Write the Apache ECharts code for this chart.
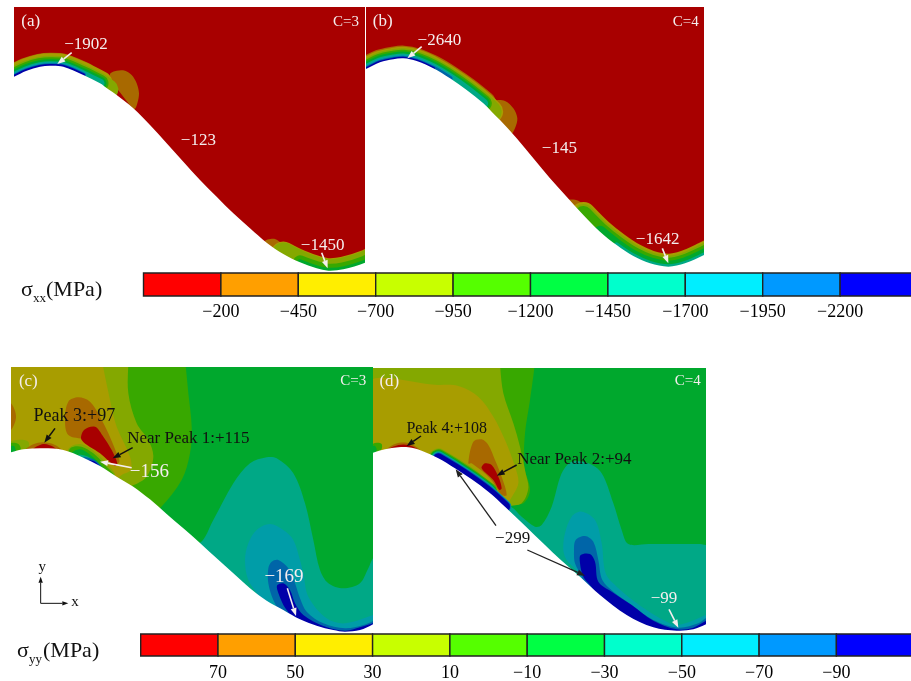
<!DOCTYPE html>
<html><head><meta charset="utf-8"><title>Stress contours</title>
<style>html,body{margin:0;padding:0;background:#fff}#c{width:911px;height:681px}</style>
<script src="https://cdn.jsdelivr.net/npm/echarts@6/dist/echarts.min.js"></script></head>
<body><div id="c"></div>
<script>
// Legend
const legendColors=['#ff0000','#ff9f00','#ffee00','#c8ff00','#55ff00','#00ff44','#00ffcc','#00eeff','#0099ff','#0000ff'];
const shadeColors=['#a80000','#a86900','#a89d00','#84a800','#38a800','#00a82d','#00a886','#009da8','#0065a8','#0000a8'];
const xxTicks=['−200','−450','−700','−950','−1200','−1450','−1700','−1950','−2200'];
const yyTicks=['70','50','30','10','−10','−30','−50','−70','−90'];

// Contour boundaries (panel units)
const curveA=[[0,250],[42,230],[80,212],[120,200],[150,197],[190,200],[250,225],[300,250],[325,268],[350,285],[400,325],[450,375],[500,430],[550,485],[600,540],[650,590],[700,640],[750,685],[800,728],[850,762],[900,787],[950,805],[985,812],[1030,808],[1095,788],[1150,760]];
const curveB=[[-40,225],[18,207],[60,187],[100,178],[130,175],[170,183],[220,205],[270,235],[320,270],[370,310],[395,335],[420,360],[470,415],[520,475],[570,535],[620,590],[670,645],[720,695],[770,735],[820,768],[870,790],[925,800],[975,790],[1032,765],[1090,735]];
const curveC=[[-30,290],[33,277],[70,268],[130,265],[190,270],[250,293],[300,318],[350,350],[400,380],[450,418],[500,462],[550,505],[600,549],[650,595],[700,640],[750,685],[800,722],[850,750],[900,778],[950,797],[1000,810],[1035,815],[1080,810],[1120,792],[1170,760]];
const curveD=[[-30,295],[24,278],[60,268],[100,262],[130,262],[170,272],[220,295],[270,325],[320,358],[370,395],[420,440],[480,497],[540,555],[585,598],[650,655],[705,705],[785,765],[865,802],[935,812],[985,808],[1023,793],[1080,765]];

const regionsA=[
 [1,[[330,222],[350,212],[375,212],[395,225],[410,250],[417,280],[412,310],[403,327],[370,290],[340,250]]],
 [1,[[795,725],[825,717],[850,735],[880,755],[900,790],[850,780]]]
];
const regionsB=[
 [1,[[405,303],[435,303],[460,325],[472,355],[465,385],[452,403],[425,370],[400,330]]],
 [1,[[625,602],[655,602],[680,625],[700,650],[690,680]]]
];
const regionsC=[
 [6,[[600,548],[640,480],[700,370],[750,310],[800,292],[830,295],[880,340],[915,430],[940,540],[960,630],[985,670],[1030,685],[1080,670],[1105,625],[1125,590],[1180,590],[1180,850],[560,850],[560,520]]],
 [7,[[735,600],[745,550],[770,510],[810,492],[850,510],[880,540],[900,600],[910,640],[925,710],[980,775],[1035,790],[1120,765],[1180,740],[1180,850],[830,850],[790,730],[745,660]]],
 [8,[[805,625],[815,605],[835,600],[865,625],[885,670],[900,715],[920,755],[970,790],[1035,805],[1090,795],[1125,780],[1180,750],[1180,850],[880,850],[850,775],[820,720],[805,670]]],
 [9,[[832,690],[832,675],[850,670],[870,690],[885,730],[910,765],[970,798],[1035,812],[1080,802],[1125,788],[1180,770],[1180,850],[890,850],[875,775],[850,735]]],
 [4,[[0,-30],[550,-20],[555,0],[565,100],[575,200],[570,280],[545,360],[480,445],[400,520],[0,520]]],
 [3,[[0,-30],[385,-20],[385,0],[385,100],[410,190],[445,240],[460,290],[440,350],[395,378],[300,420],[0,420]]],
 [2,[[0,-30],[300,-20],[305,0],[330,120],[350,200],[390,290],[392,330],[365,345],[300,400],[0,400]]],
 [1,[[10,125],[33,130],[48,170],[33,210],[10,215]]],
 [1,[[195,180],[205,125],[235,112],[270,125],[300,170],[325,220],[350,280],[358,305],[340,315],[300,275],[255,240],[205,225]]],
 [0,[[245,240],[252,210],[285,200],[310,230],[335,270],[352,310],[345,318],[300,280]]],
 [3,[[25,250],[50,240],[85,245],[80,275],[25,285]]],
 [4,[[25,252],[55,252],[62,275],[25,285]]],
 [5,[[25,262],[42,258],[46,278],[25,285]]],
 [1,[[78,270],[100,253],[130,247],[165,255],[185,272]]],
 [0,[[100,268],[130,252],[160,260],[170,272]]],
 [3,[[203,275],[215,258],[245,253],[280,272],[320,310],[345,345],[300,340],[240,310]]],
 [4,[[205,280],[215,262],[245,260],[280,280],[312,312],[345,350],[300,340],[220,300]]],
 [5,[[215,283],[240,268],[275,288],[305,318],[340,352],[300,345]]],
 [6,[[235,285],[265,290],[295,315],[330,350],[290,335]]],
 [8,[[250,292],[280,298],[305,322],[300,330]]],
 [9,[[265,302],[285,305],[306,328],[295,330]]]
];
const regionsD=[
 [7,[[595,570],[600,520],[620,470],[650,455],[690,480],[710,550],[722,640],[755,680],[830,740],[905,785],[940,795],[1022,765],[1080,735],[1080,860],[720,860],[640,640],[605,600]]],
 [8,[[627,575],[632,540],[660,528],[685,545],[700,600],[712,660],[745,695],[800,735],[865,780],[940,803],[1000,790],[1022,775],[1080,750],[1080,860],[720,860],[650,650],[630,610]]],
 [9,[[645,610],[647,585],[675,582],[690,605],[700,665],[740,695],[800,735],[865,782],[935,808],[985,803],[1022,783],[1080,760],[1080,860],[750,860],[685,690],[655,650]]],
 [5,[[0,0],[1080,0],[1080,552],[1000,552],[850,552],[790,552],[770,510],[745,430],[710,340],[670,310],[620,305],[590,340],[560,440],[530,495],[510,500],[470,470],[430,440],[300,500],[0,500]]],
 [4,[[0,-30],[505,-20],[510,0],[495,120],[480,220],[478,320],[495,390],[475,430],[430,435],[300,500],[0,500]]],
 [3,[[0,-30],[398,-20],[403,0],[415,100],[445,190],[465,260],[482,340],[490,385],[470,430],[430,440],[300,500],[0,500]]],
 [2,[[0,75],[220,75],[280,78],[340,110],[385,170],[420,240],[450,320],[460,370],[435,420],[420,440],[300,500],[0,500]]],
 [1,[[310,310],[325,245],[350,238],[370,255],[390,300],[410,350],[425,405],[410,405],[375,355],[320,310]]],
 [0,[[350,325],[360,310],[380,315],[400,350],[410,385],[403,390],[385,360]]],
 [4,[[20,255],[35,248],[50,252],[48,270],[20,285]]],
 [5,[[20,262],[30,258],[35,272],[20,285]]],
 [1,[[65,270],[90,252],[125,248],[150,258],[168,275]]],
 [0,[[72,268],[100,255],[130,255],[155,268]]]
];
// Bands hugging the curve: [level, half width, first curve point, last curve point]
const bandsA=[[1,13,0,6],[2,12.5,0,7],[3,10,0,8],[4,8.5,0,7],[5,6.5,0,7],[6,4.5,0,7],[7,3.5,0,6],[8,2.5,0,6],[9,1.7,0,6],[2,12.5,19,25],[3,11.5,19,25],[4,7,20,25],[5,3,20,25]];
const bandsB=[[1,12.7,0,9],[2,11.5,0,10],[3,10,0,10],[4,8.5,0,9],[5,6.8,0,9],[6,4.8,0,9],[7,3.5,0,7],[8,2.5,0,7],[9,1.6,0,6],[2,13,16,24],[3,11,16,24],[4,9,16,24],[5,6,17,24],[6,2.5,18,24]];
const bandsC=[];
const bandsD=[[3,10,6,8],[4,9,6,9],[5,8,6,9],[6,7,6,9],[7,6.4,6,10],[8,5.8,6,10],[9,5,6,10]];

// Annotations: [text, x, y, size, colour]
const WHITE='#f4eeee',BLACK='#111';
const textsA=[['(a)',92,65,17,WHITE],['C=3',1038,65,15,WHITE],['−1902',258,135,17,WHITE],['−123',595,422,17,WHITE],['−1450',968,737,17,WHITE]];
const textsB=[['(b)',68,65,17,WHITE],['C=4',977,65,15,WHITE],['−2640',238,123,17,WHITE],['−145',598,445,17,WHITE],['−1642',893,720,17,WHITE]];
const textsC=[['(c)',85,65,17,WHITE],['C=3',1060,62,15,WHITE],['Peak 3:+97',223,168,18,BLACK],['Near Peak 1:+115',565,236,17,BLACK],['−156',448,335,19,WHITE],['−169',852,650,19,WHITE],['y',127,622,15,BLACK],['x',225,725,15,BLACK]];
const textsD=[['(d)',73,65,17,WHITE],['C=4',968,63,15,WHITE],['Peak 4:+108',245,205,16,BLACK],['Near Peak 2:+94',628,298,17,BLACK],['−299',443,535,17,BLACK],['−99',897,715,17,WHITE]];
// Arrows: [x1, y1, x2, y2, colour, width]
const arrowsA=[[215,158,172,192,WHITE,1.6],[965,758,983,805,WHITE,1.6]];
const arrowsB=[[185,140,142,175,WHITE,1.6],[907,745,925,790,WHITE,1.6]];
const arrowsC=[[165,205,133,248,BLACK,1.5],[398,263,338,295,BLACK,1.5],[395,323,300,305,WHITE,1.6],[862,685,888,768,WHITE,1.6],[122,730,122,650,BLACK,1],[122,730,205,730,BLACK,1]];
const arrowsD=[[168,228,125,258,BLACK,1.5],[455,315,395,347,BLACK,1.5],[393,497,272,328,'#222',1.3],[487,570,660,647,'#222',1.3],[912,748,940,803,WHITE,1.6]];

const panels=[
 {grid:[14,7,351,264],x:[42,1095],y:[21,813],bg:0,curve:curveA,regions:regionsA,bands:bandsA,texts:textsA,arrows:arrowsA},
 {grid:[366,7,338,260],x:[18,1032],y:[21,801],bg:0,curve:curveB,regions:regionsB,bands:bandsB,texts:textsB,arrows:arrowsB},
 {grid:[11,367,362,265],x:[33,1119],y:[21,816],bg:5,curve:curveC,regions:regionsC,bands:bandsC,texts:textsC,arrows:arrowsC},
 {grid:[373,368,333,263],x:[24,1023],y:[24,813],bg:6,curve:curveD,regions:regionsD,bands:bandsD,texts:textsD,arrows:arrowsD}
];
const bars=[{grid:[143.5,273,774,23],ticks:xxTicks,margin:7},{grid:[140.7,634,773,22],ticks:yyTicks,margin:8}];
const SERIF='"Liberation Serif","Times New Roman",serif';

const grids=[],xAxes=[],yAxes=[],series=[];
panels.forEach((p,i)=>{
  grids.push({left:p.grid[0],top:p.grid[1],width:p.grid[2],height:p.grid[3],show:true,borderWidth:0,borderColor:'rgba(0,0,0,0)',backgroundColor:shadeColors[p.bg],outerBoundsMode:'none'});
  xAxes.push({type:'value',gridIndex:i,min:p.x[0],max:p.x[1],show:false});
  yAxes.push({type:'value',gridIndex:i,min:p.y[0],max:p.y[1],inverse:true,show:false});
  const layers=[];
  p.regions.forEach(r=>layers.push({kind:'poly',color:shadeColors[r[0]],pts:r[1]}));
  p.bands.forEach(b=>layers.push({kind:'band',color:shadeColors[b[0]],width:b[1]*2,pts:p.curve.slice(b[2],b[3]+1)}));
  const first=p.curve[0],last=p.curve[p.curve.length-1];
  layers.push({kind:'poly',color:'#ffffff',pts:p.curve.concat([[last[0]+40,1100],[first[0]-40,1100]])});
  series.push({type:'custom',xAxisIndex:i,yAxisIndex:i,clip:true,silent:true,animation:false,z:2,
    data:layers.map((_,k)=>[k,0]),
    renderItem(params,api){
      const l=layers[api.value(0)],pts=l.pts.map(q=>api.coord(q));
      if(l.kind==='poly')return{type:'polygon',shape:{points:pts,smooth:0.33},style:{fill:l.color}};
      return{type:'polyline',shape:{points:pts,smooth:0.33},style:{fill:null,stroke:l.color,lineWidth:l.width,lineCap:'round',lineJoin:'round'}};
    }});
  series.push({type:'custom',xAxisIndex:i,yAxisIndex:i,clip:false,silent:true,animation:false,z:5,
    data:p.arrows.map((_,k)=>[k,0]),
    renderItem(params,api){
      const a=p.arrows[api.value(0)],s=api.coord([a[0],a[1]]),e=api.coord([a[2],a[3]]);
      const dx=e[0]-s[0],dy=e[1]-s[1],n=Math.hypot(dx,dy),ux=dx/n,uy=dy/n,len=a[5]>1.2?8:6,w=a[5]>1.2?3:2.2;
      const b=[e[0]-ux*len,e[1]-uy*len];
      return{type:'group',children:[
        {type:'line',shape:{x1:s[0],y1:s[1],x2:b[0],y2:b[1]},style:{stroke:a[4],lineWidth:a[5]}},
        {type:'polygon',shape:{points:[e,[b[0]-uy*w,b[1]+ux*w],[b[0]+uy*w,b[1]-ux*w]]},style:{fill:a[4]}}
      ]};
    }});
  series.push({type:'custom',xAxisIndex:i,yAxisIndex:i,clip:false,silent:true,animation:false,z:6,
    data:p.texts.map((_,k)=>[k,0]),
    renderItem(params,api){
      const t=p.texts[api.value(0)],c=api.coord([t[1],t[2]]);
      return{type:'text',style:{text:t[0],x:c[0],y:c[1],fill:t[4],font:t[3]+'px '+SERIF,align:'center',verticalAlign:'middle'}};
    }});
});
bars.forEach((b,j)=>{
  const idx=panels.length+j;
  grids.push({left:b.grid[0],top:b.grid[1],width:b.grid[2],height:b.grid[3],show:false,outerBoundsMode:'none'});
  xAxes.push({type:'value',gridIndex:idx,min:0,max:legendColors.length,interval:1,axisLine:{show:false},axisTick:{show:false},splitLine:{show:false},
    axisLabel:{margin:b.margin,color:'#000',fontFamily:SERIF,fontSize:18,hideOverlap:false,formatter:v=>b.ticks[v-1]||''}});
  yAxes.push({type:'value',gridIndex:idx,min:0,max:1,show:false});
  series.push({type:'custom',xAxisIndex:idx,yAxisIndex:idx,clip:false,silent:true,animation:false,z:3,
    data:legendColors.map((_,k)=>[k,0]),
    renderItem(params,api){
      const k=api.value(0),p0=api.coord([k,1]),p1=api.coord([k+1,0]);
      return{type:'rect',shape:{x:p0[0],y:p0[1],width:p1[0]-p0[0],height:p1[1]-p0[1]},style:{fill:legendColors[k],stroke:'#222',lineWidth:1.4}};
    }});
});
const symText=(t,x,y,s)=>({type:'text',x:x,y:y,silent:true,style:{text:t,fill:'#111',font:s+'px '+SERIF,verticalAlign:'middle'}});
const chart=echarts.init(document.getElementById('c'),null,{renderer:'canvas'});
chart.setOption({backgroundColor:'#fff',animation:false,tooltip:{show:false},grid:grids,xAxis:xAxes,yAxis:yAxes,series:series,
 graphic:[symText('σ',21,290,22),symText('xx',33,299,13),symText('(MPa)',46,290,22),
          symText('σ',17,651,22),symText('yy',29,660,13),symText('(MPa)',43,651,22)]});
</script></body></html>
